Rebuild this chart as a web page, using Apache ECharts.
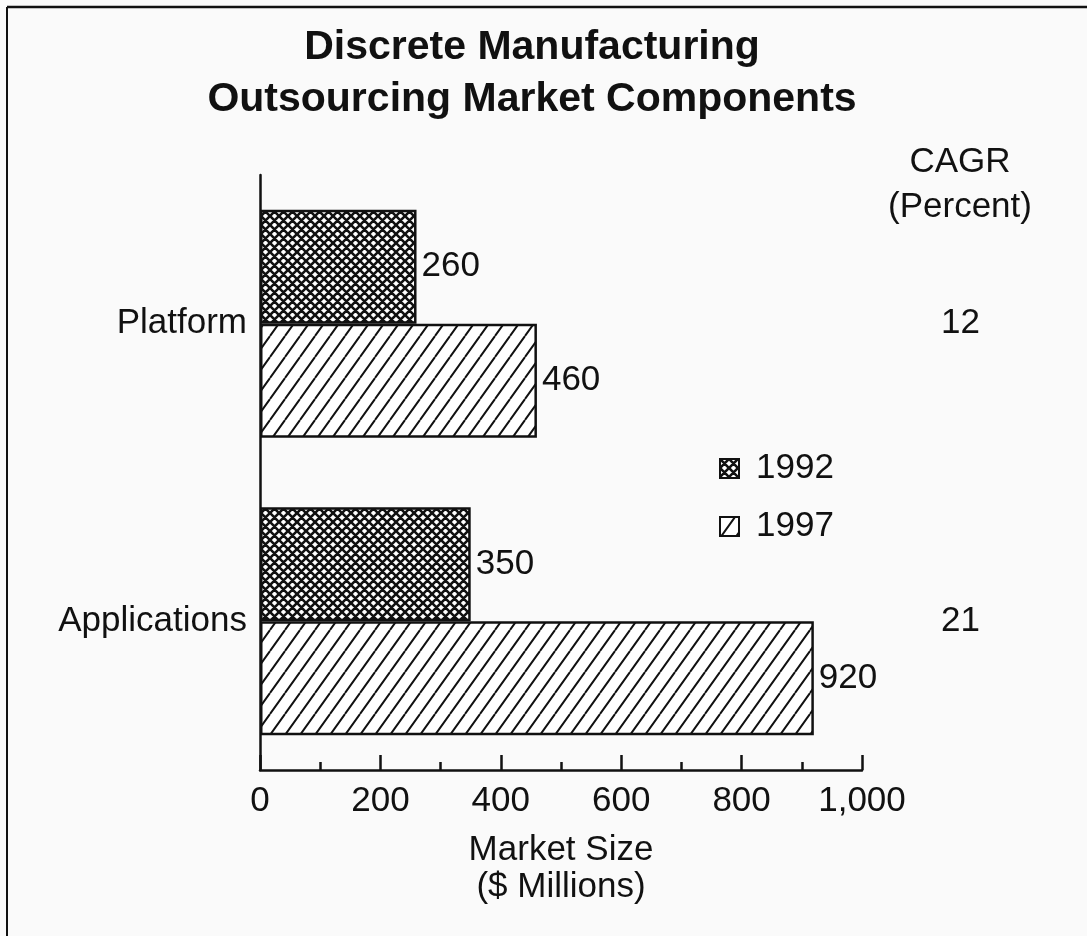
<!DOCTYPE html>
<html>
<head>
<meta charset="utf-8">
<script src="https://cdn.jsdelivr.net/npm/echarts@6/dist/echarts.min.js"></script>
<style>
  html, body { margin: 0; padding: 0; background: #fafafa; }
  #chart { width: 1087px; height: 936px; }
</style>
</head>
<body>
<div id="chart"></div>
<script>
// data
const categories = ['Platform', 'Applications'];
const years = ['1992', '1997'];
const values1992 = [260, 350];
const values1997 = [460, 920];
const cagr = ['12', '21'];
const xTicks = [0, 200, 400, 600, 800, 1000];
const xTickLabels = ['0', '200', '400', '600', '800', '1,000'];

const FONT = '"Liberation Sans", Arial, Helvetica, sans-serif';
const FS = 35;

// crosshatch pattern (1992)
const makeCross = () => {
    const s = 9;
    const c = document.createElement('canvas');
    c.width = s; c.height = s;
    const g = c.getContext('2d');
    g.fillStyle = '#fff';
    g.fillRect(0, 0, s, s);
    g.strokeStyle = '#111';
    g.lineWidth = 2.6;
    g.beginPath();
    for (let k = -1; k <= 1; k++) {
        g.moveTo(k * s, s); g.lineTo(k * s + s, 0);
        g.moveTo(k * s, 0); g.lineTo(k * s + s, s);
    }
    g.stroke();
    return c;
};

// slash pattern (1997), a bit steeper than 45 degrees
const makeSlash = () => {
    const w = 15, h = 21;
    const c = document.createElement('canvas');
    c.width = w; c.height = h;
    const g = c.getContext('2d');
    g.fillStyle = '#fff';
    g.fillRect(0, 0, w, h);
    g.strokeStyle = '#111';
    g.lineWidth = 2;
    g.beginPath();
    for (let k = -1; k <= 1; k++) {
        g.moveTo(k * w, h); g.lineTo(k * w + w, 0);
    }
    g.stroke();
    return c;
};

const chart = echarts.init(document.getElementById('chart'));

const labelStyle = {
    show: true,
    position: 'right',
    distance: 5,
    color: '#111',
    fontFamily: FONT,
    fontSize: FS
};

chart.setOption({
    backgroundColor: '#fafafa',
    animation: false,
    title: {
        text: 'Discrete Manufacturing\nOutsourcing Market Components',
        left: 527,
        top: 17,
        textAlign: 'center',
        textStyle: {
            fontFamily: FONT,
            fontWeight: 'bold',
            fontSize: 41,
            lineHeight: 52,
            color: '#111'
        }
    },
    legend: {
        data: years,
        orient: 'vertical',
        left: 714,
        top: 446,
        itemWidth: 19,
        itemHeight: 19,
        itemGap: 23,
        icon: 'rect',
        textStyle: { fontFamily: FONT, fontSize: FS, color: '#111', padding: [0, 0, 0, 12] }
    },
    grid: { left: 260, right: 225, top: 175, bottom: 166 },
    xAxis: {
        type: 'value',
        min: 0,
        max: 1000,
        interval: 200,
        name: 'Market Size\n($ Millions)',
        nameLocation: 'middle',
        nameGap: 62,
        nameTextStyle: { fontFamily: FONT, fontSize: FS, color: '#111', lineHeight: 37 },
        axisLine: { show: true, lineStyle: { color: '#111', width: 2.5 } },
        axisTick: { show: true, inside: true, length: 15, lineStyle: { color: '#111', width: 2.5 } },
        minorTick: { show: true, splitNumber: 2, length: 8, lineStyle: { color: '#111', width: 2.5 } },
        splitLine: { show: false },
        axisLabel: {
            margin: 14,
            fontFamily: FONT,
            fontSize: FS,
            color: '#111',
            formatter: v => xTickLabels[xTicks.indexOf(v)]
        }
    },
    yAxis: [
        {
            type: 'category',
            data: categories,
            inverse: true,
            axisLine: { show: true, onZero: false, lineStyle: { color: '#111', width: 2.5 } },
            axisTick: { show: false },
            axisLabel: { margin: 13, fontFamily: FONT, fontSize: FS, color: '#111' }
        },
        {
            // CAGR column on the right
            type: 'category',
            data: categories,
            inverse: true,
            position: 'right',
            axisLine: { show: false },
            axisTick: { show: false },
            splitLine: { show: false },
            axisLabel: {
                margin: 79,
                fontFamily: FONT,
                fontSize: FS,
                color: '#111',
                formatter: (v, i) => cagr[i]
            }
        }
    ],
    series: [
        {
            name: years[0],
            type: 'bar',
            data: values1992,
            barWidth: 114,
            barGap: '0%',
            itemStyle: {
                color: { image: makeCross(), repeat: 'repeat' },
                borderColor: '#111',
                borderWidth: 2.5
            },
            label: labelStyle
        },
        {
            name: years[1],
            type: 'bar',
            data: values1997,
            barWidth: 114,
            barGap: '0%',
            itemStyle: {
                color: { image: makeSlash(), repeat: 'repeat' },
                borderColor: '#111',
                borderWidth: 2.5
            },
            label: labelStyle
        }
    ],
    graphic: [
        {
            type: 'text',
            x: 960,
            y: 140,
            style: {
                text: 'CAGR\n(Percent)',
                fontFamily: FONT,
                fontSize: FS,
                lineHeight: 45,
                fill: '#111',
                align: 'center'
            }
        },
        // page frame
        { type: 'line', shape: { x1: 7, y1: 7, x2: 1087, y2: 7 }, style: { stroke: '#111', lineWidth: 2.5 } },
        { type: 'line', shape: { x1: 7, y1: 7, x2: 7, y2: 936 }, style: { stroke: '#111', lineWidth: 2 } }
    ]
});
</script>
</body>
</html>
